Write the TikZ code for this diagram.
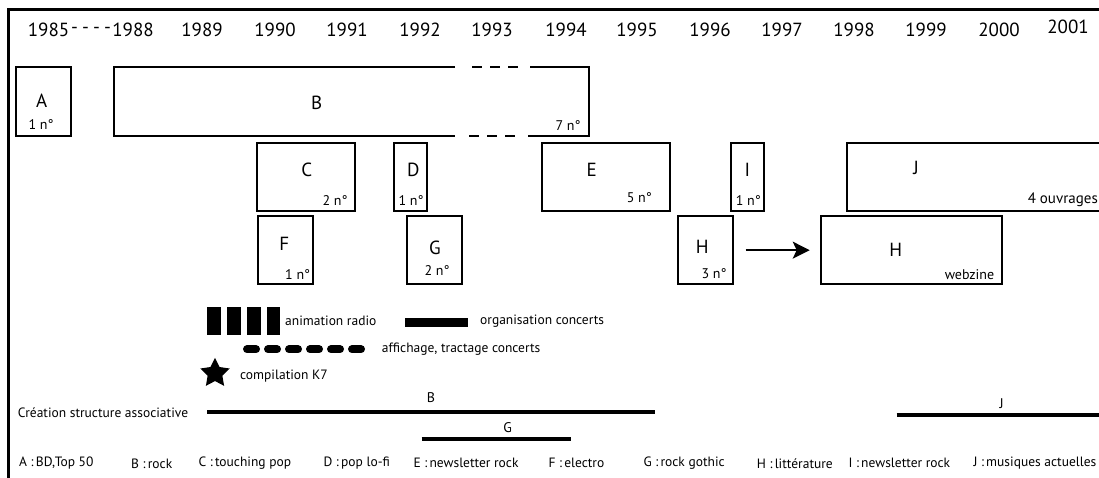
\documentclass[tikz,border=0pt]{standalone}
\usepackage{fontspec}
\setmainfont{PT Sans}
\usetikzlibrary{arrows.meta,shapes.geometric}
\def\boite#1(#2,#3)(#4,#5){\node[boite, minimum width=#4pt-#2pt, minimum height=#5pt-#3pt] (#1) at ({(#2+#4)/2},{(#3+#5)/2}) {};}
\tikzset{
	boite/.style={draw, line width=2pt, inner sep=0pt},
	lettre/.style={inner sep=0pt, font=\fontsize{19}{19}\selectfont},
	nombre/.style={inner sep=0pt, font=\fontsize{14}{14}\selectfont},
	annee/.style={inner sep=0pt, font=\fontsize{19}{19}\selectfont},
	legende/.style={inner sep=0pt, anchor=west, font=\fontsize{13.5}{13.5}\selectfont},
	trait/.style={line width=4pt},
}
\begin{document}
\begin{tikzpicture}[x=1pt, y=-1pt]
			\useasboundingbox (0,0) rectangle (1099,478);
			%%%%% CADRE %%%%%
			\draw[line width=2.5pt] (8.5,480) -- (8.5,9.5) -- (1102,9.5);
			
			%%%%% ANNEES %%%%%
			\node[annee] (a1985) at (48.6,30) {1985};
			\node[annee] (tirets) at (91,30) {\makebox[40pt]{-\hfill-\hfill-\hfill-}};
			\foreach \an/\x in {1988/133,1989/202,1990/275,1991/347,1992/420,1993/492,1994/566,1995/637,1996/710,1997/782,1998/854,1999/926,2000/999}
				\node[annee] (a\an) at (\x,30) {\an};
			\node[annee] (a2001) at (1068,27) {2001};
			
			%%%%% BOITES %%%%%
			\boite{A}(15.7,67.3)(71,136)
			\node[lettre] (A-l) at (41.7,100.7) {A};
			\node[nombre] (A-n) at (41,125) {1 n°};
			
			\draw[line width=2pt] (455,67.3) -- (114.3,67.3) -- (114.3,136) -- (455,136);
			\draw[line width=2pt] (530,67.3) -- (589,67.3) -- (589,136) -- (528,136);
			\draw[line width=2pt, dash pattern=on 10pt off 8pt] (472,67.3) -- (520,67.3);
			\draw[line width=2pt, dash pattern=on 10pt off 8pt] (469,136) -- (517,136);
			\node[lettre] (B-l) at (316.7,103) {B};
			\node[nombre] (B-n) at (568,126) {7 n°};
			
			\boite{C}(256.7,142.7)(355.3,211)
			\node[lettre] (C-l) at (306.7,170) {C};
			\node[nombre] (C-n) at (335,200.7) {2 n°};
			
			\boite{D}(394.3,142.7)(427.3,211)
			\node[lettre] (D-l) at (413.3,170) {D};
			\node[nombre] (D-n) at (411,200.7) {1 n°};
			
			\boite{E}(542.3,142.7)(670.3,211)
			\node[lettre] (E-l) at (591.7,170) {E};
			\node[nombre] (E-n) at (639.3,197.7) {5 n°};
			
			\boite{I}(731,142.7)(764,211)
			\node[lettre] (I-l) at (747.3,170) {I};
			\node[nombre] (I-n) at (748.3,200.7) {1 n°};
			
			\boite{J}(846.7,142.7)(1110,211)
			\node[lettre] (J-l) at (916,168) {J};
			\node[nombre, anchor=east, font=\fontsize{15}{15}\selectfont] (J-n) at (1098,200) {4 ouvrages};
			
			\boite{F}(258.3,216)(313.3,284.3)
			\node[lettre] (F-l) at (284.3,244.3) {F};
			\node[nombre] (F-n) at (297.7,275) {1 n°};
			
			\boite{G}(406.7,216)(461.7,284.3)
			\node[lettre] (G-l) at (435,248) {G};
			\node[nombre] (G-n) at (437,271) {2 n°};
			
			\boite{H1}(678.3,216)(732.7,284.3)
			\node[lettre] (H1-l) at (702.3,247.3) {H};
			\node[nombre] (H1-n) at (714,273.3) {3 n°};
			
			\boite{H2}(820.7,216)(1001.7,284.3)
			\node[lettre] (H2-l) at (895.7,250) {H};
			\node[nombre] (H2-n) at (969.5,275) {webzine};
			
			\draw[line width=1.7pt, -{Stealth[length=17pt, width=17pt, inset=4pt]}, shorten <=12pt, shorten >=10pt] (H1) -- (H2);
			
			%%%%% ACTIVITES %%%%%
			\foreach \x in {207.3,227.3,247.3,266.7}
				\fill (\x,307.3) rectangle ++(13.4,27.7);
			\node[legende] (radio) at (285,321) {animation radio};
			\fill (405,318.3) rectangle (467.7,327.3);
			\node[legende] (concerts) at (480,321) {organisation concerts};
			\draw[line width=8pt, line cap=round, dash pattern=on 9pt off 12pt] (247,349.3) -- (361,349.3);
			\node[legende] (affichage) at (381.7,349.3) {affichage, tractage concerts};
			\node[star, star points=5, star point ratio=2, fill, minimum size=31pt, inner sep=0pt] (etoile) at (215,373.3) {};
			\node[legende] (k7) at (240,376) {compilation K7};
			
			%%%%% STRUCTURES %%%%%
			\node[legende, anchor=east] (creation) at (188.3,412.3) {Création structure associative};
			\draw[trait] (207.3,412.3) -- (654.5,412.3);
			\node[nombre] (B-s) at (431,397.7) {B};
			\draw[trait] (421.7,439) -- (570.7,439);
			\node[nombre] (G-s) at (507.7,427.3) {G};
			\draw[trait] (896.7,415) -- (1102,415);
			\node[nombre] (J-s) at (1001.7,403.3) {J};
			
			%%%%% LEGENDE %%%%%
			\foreach \l/\x/\t in {A/19/{A :\,BD,Top 50}, B/131/{B :\,rock}, C/198.3/{C :\,touching pop}, D/323.3/{D :\,pop lo-fi}, E/413.3/{E :\,newsletter rock}, F/548.3/{F :\,electro}, G/643.3/{G :\,rock gothic}, H/756.7/{H :\,littérature}, I/848.3/{I :\,newsletter rock}, J/973.3/{J :\,musiques actuelles}}
				\node[legende] (leg\l) at (\x,463.3) {\t};
			
			%%%%% FIN %%%%%
\end{tikzpicture}
\end{document}
